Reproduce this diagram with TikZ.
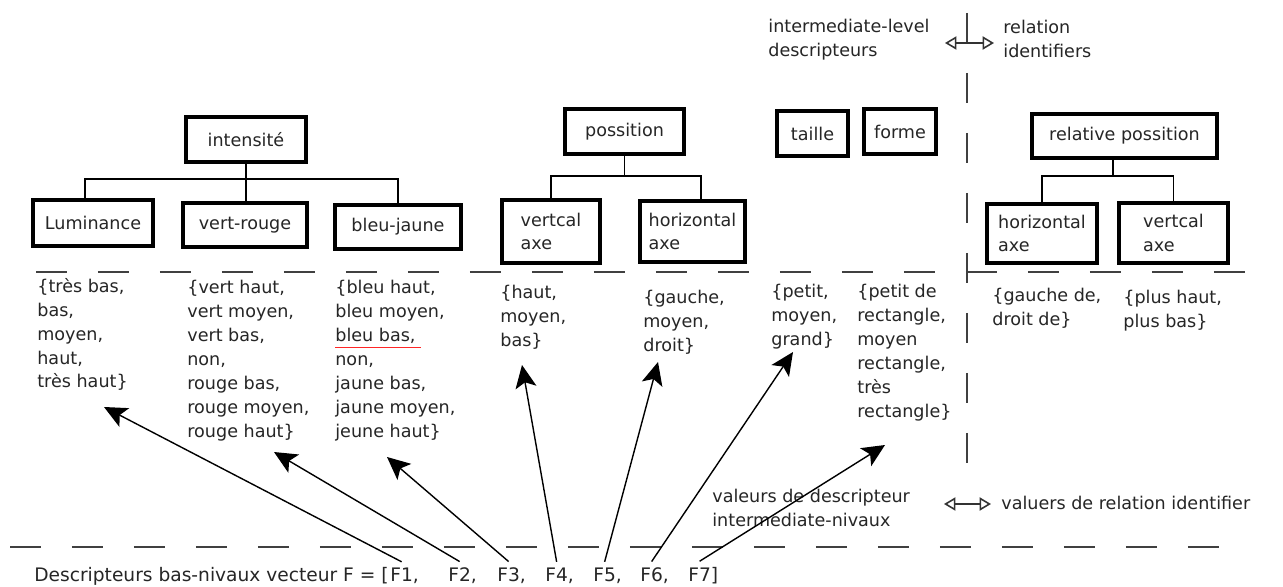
\documentclass[tikz,border=0pt]{standalone}
\usepackage{fontspec}
\setmainfont{DejaVu Sans}
\usetikzlibrary{arrows.meta}

\begin{document}
\begin{tikzpicture}[x=0.02cm,y=-0.02cm,
  every node/.style={font=\fontsize{10}{13.6}\selectfont, text=black!85},
  box/.style={draw=black, line width=1.9pt, inner sep=0pt, align=left},
  tree/.style={draw=black, line width=0.9pt},
  vals/.style={anchor=north west, inner sep=0pt, align=left},
  sep/.style={draw=black!75, line width=1.1pt, dash pattern=on 0.62cm off 0.62cm},
  vsep/.style={draw=black!75, line width=1.1pt, dash pattern=on 0.6cm off 0.6cm},
  arr/.style={draw=black, line width=0.8pt, -{Stealth[length=13pt,width=12pt,inset=3pt]}},
  legend/.style={draw=black!80, line width=0.9pt,
    {Triangle[open,length=6.5pt,width=7.5pt]}-{Triangle[open,length=6.5pt,width=7.5pt]}},
  low/.style={font=\fontsize{10.6}{13.6}\selectfont},
  fl/.style={low, anchor=base west, inner xsep=0pt, inner ysep=3pt}
]
\useasboundingbox[fill=white] (0,0) rectangle (1283,587);

% separators
\draw[sep] (36,272) -- (1245,272);
\draw[sep] (10,547) -- (1219,547);
\draw[vsep] (967,13) -- (967,465);

% legend
\node[vals] (lvlA) at (768,19) {intermediate-level\\descripteurs};
\node[vals] (relA) at (1003,20) {relation\\identifiers};
\coordinate (lgA) at (945,43);
\coordinate (lgB) at (994,43);
\draw[legend] (lgA) -- (lgB);

\node[vals] (lvlB) at (712,489) {valeurs de descripteur\\intermediate-nivaux};
\node[anchor=west, inner sep=0pt] (relB) at (1001,503) {valuers de relation identifier};
\coordinate (lgC) at (944,504);
\coordinate (lgD) at (991,504);
\draw[legend] (lgC) -- (lgD);

% intensity tree
\node[box, minimum width=2.4cm, minimum height=0.9cm] (int) at (246,139.5) {intensité};
\node[box, minimum width=2.4cm, minimum height=0.92cm] (lum) at (93,223) {Luminance};
\node[box, minimum width=2.48cm, minimum height=0.88cm] (vr) at (245,225) {vert-rouge};
\node[box, minimum width=2.52cm, minimum height=0.88cm] (bj) at (398,227) {bleu-jaune};
\coordinate (jint) at (246,179);
\draw[tree] (int.south) -- (jint);
\draw[tree] ([xshift=-0.16cm]lum.north) |- (jint) -| (bj.north);
\draw[tree] (jint) -- (jint |- vr.north);

% position tree
\node[box, minimum width=2.38cm, minimum height=0.9cm] (pos) at (624.5,131.5) {possition};
\node[box, minimum width=1.96cm, minimum height=1.26cm] (va) at (551,231.5) {vertcal\\axe};
\node[box, minimum width=2.1cm, minimum height=1.22cm] (ha) at (692.5,231.5) {horizontal\\axe};
\coordinate (jpos) at (624.5,176);
\draw[tree] (pos.south) -- (jpos);
\draw[tree] (va.north) |- (jpos) -| ([xshift=0.17cm]ha.north);

% size and shape
\node[box, minimum width=1.42cm, minimum height=0.9cm] (tai) at (812.5,133.5) {taille};
\node[box, minimum width=1.44cm, minimum height=0.9cm] (for) at (900,131.5) {forme};

% relative position tree
\node[box, minimum width=3.7cm, minimum height=0.88cm] (rel) at (1124.5,136) {relative possition};
\node[box, minimum width=2.2cm, minimum height=1.18cm] (rh) at (1042,233.5) {horizontal\\axe};
\node[box, minimum width=2.18cm, minimum height=1.2cm] (rv) at (1173.5,233) {vertcal\\axe};
\coordinate (jrel) at (1113,176);
\draw[tree] (jrel |- rel.south) -- (jrel);
\draw[tree] (rh.north) |- (jrel) -| (rv.north);

% value sets
\node[vals] (v1) at (37,278) {\{très bas,\\bas,\\moyen,\\haut,\\très haut\}};
\node[vals] (v2) at (187,280) {\{vert haut,\\vert moyen,\\vert bas,\\non,\\rouge bas,\\rouge moyen,\\rouge haut\}};
\node[vals] (v3) at (335,280) {\{bleu haut,\\bleu moyen,\\bleu bas,\\non,\\jaune bas,\\jaune moyen,\\jeune haut\}};
\draw[red!85, line width=0.5pt] (335,347) -- (421,347);
\node[vals] (v4) at (500,285) {\{haut,\\moyen,\\bas\}};
\node[vals] (v5) at (643,290) {\{gauche,\\moyen,\\droit\}};
\node[vals] (v6) at (771,284) {\{petit,\\moyen,\\grand\}};
\node[vals] (v7) at (857,284) {\{petit de\\rectangle,\\moyen\\rectangle,\\très\\rectangle\}};
\node[vals] (v8) at (992,288) {\{gauche de,\\droit de\}};
\node[vals] (v9) at (1123,290) {\{plus haut,\\plus bas\}};

% low-level descriptor vector
\node[low, anchor=base east, inner sep=0pt] (desc) at (389,581) {Descripteurs bas-nivaux vecteur F = [};
\node[fl] (f1) at (390,581) {F1\rlap{,}};
\node[fl] (f2) at (448,581) {F2\rlap{,}};
\node[fl] (f3) at (497,581) {F3\rlap{,}};
\node[fl] (f4) at (545,581) {F4\rlap{,}};
\node[fl] (f5) at (593,581) {F5\rlap{,}};
\node[fl] (f6) at (640,581) {F6\rlap{,}};
\node[fl] (f7) at (688,581) {F7\rlap{]}};

% arrow targets below the value sets
\coordinate (t1) at (104,407);
\coordinate (t2) at (274,452);
\coordinate (t3) at (387,457);
\coordinate (t4) at (522,365);
\coordinate (t5) at (658,362);
\coordinate (t6) at (793,352);
\coordinate (t7) at (885,445);

\draw[arr] (f1.north) -- (t1);
\draw[arr] (f2.north) -- (t2);
\draw[arr] (f3.north) -- (t3);
\draw[arr] (f4.north) -- (t4);
\draw[arr] (f5.north) -- (t5);
\draw[arr] (f6.north) -- (t6);
\draw[arr] (f7.north) -- (t7);
\end{tikzpicture}
\end{document}
